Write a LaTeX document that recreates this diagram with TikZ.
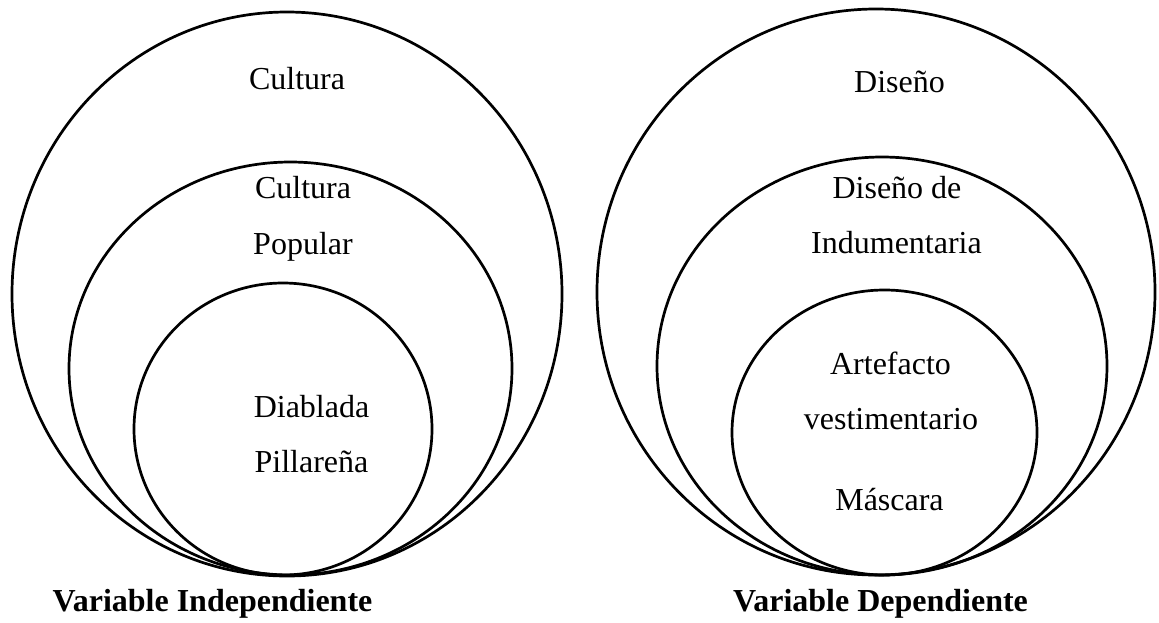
\documentclass[tikz,border=0pt]{standalone}
\usepackage{fontspec}
\setmainfont{Liberation Serif}
\begin{document}
\begin{tikzpicture}[x=1pt,y=-1pt,
  ring/.style={line width=2.7pt},
  lbl/.style={font=\fontsize{32}{38}\selectfont, inner sep=0pt, anchor=base},
  ttl/.style={font=\fontsize{32}{38}\selectfont\bfseries, inner sep=0pt, anchor=base}]
\useasboundingbox (0,0) rectangle (1159,622);
% left set of ellipses
\draw[ring] (287,294) ellipse [x radius=275, y radius=282];
\draw[ring] (290.5,368.5) ellipse [x radius=221.5, y radius=206.5];
\draw[ring] (283,429) ellipse [x radius=149, y radius=146];
% right set of ellipses
\draw[ring] (876,292) ellipse [x radius=279, y radius=283];
\draw[ring] (882,366) ellipse [x radius=225, y radius=209];
\draw[ring] (884.5,432.5) ellipse [x radius=152.5, y radius=142.5];
% left labels
\node[lbl] (cul) at (297,89) {Cultura};
\node[lbl] (cp1) at (303,198) {Cultura};
\node[lbl] (cp2) at (303,254) {Popular};
\node[lbl] (dp1) at (311.5,417) {Diablada};
\node[lbl] (dp2) at (311.5,472) {Pillareña};
\node[ttl] (vi) at (212.5,611) {Variable Independiente};
% right labels
\node[lbl] (dis) at (899.5,92) {Diseño};
\node[lbl] (di1) at (897,198) {Diseño de};
\node[lbl] (di2) at (896.5,253) {Indumentaria};
\node[lbl] (av1) at (890.5,374) {Artefacto};
\node[lbl] (av2) at (891,429) {vestimentario};
\node[lbl] (mas) at (889.5,510) {Máscara};
\node[ttl] (vd) at (880.5,611) {Variable Dependiente};
\end{tikzpicture}
\end{document}
